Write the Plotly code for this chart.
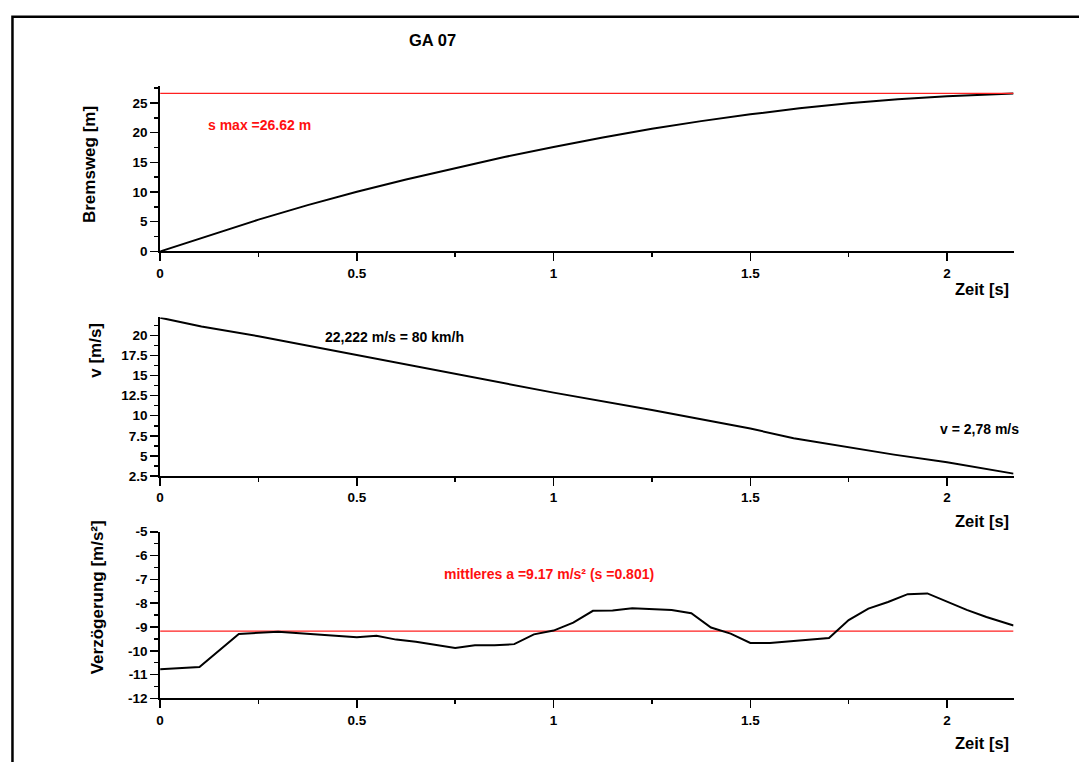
import plotly.graph_objects as go

W, H = 1079, 762

# ---------------- data ----------------
t_s = [0, 0.125, 0.25, 0.375, 0.5, 0.625, 0.75, 0.875, 1.0, 1.125, 1.25, 1.375,
       1.5, 1.625, 1.75, 1.875, 2.0, 2.1, 2.169]
s_vals = [0, 2.72, 5.35, 7.8, 10.05, 12.1, 14.05, 15.9, 17.6, 19.2, 20.65, 21.95,
          23.1, 24.1, 24.95, 25.65, 26.15, 26.45, 26.62]
s_max = 26.62

t_v = [0, 0.105, 0.25, 0.5, 0.75, 1.0, 1.25, 1.375, 1.5, 1.61, 1.71, 1.865, 2.0, 2.169]
v_vals = [22.22, 21.12, 19.92, 17.56, 15.2, 12.88, 10.72, 9.55, 8.4, 7.2, 6.4, 5.15, 4.21, 2.78]

t_a = [0, 0.1, 0.2, 0.3, 0.4, 0.5, 0.55, 0.6, 0.65, 0.75, 0.8, 0.85, 0.9, 0.95,
       1.0, 1.05, 1.1, 1.15, 1.2, 1.3, 1.35, 1.4, 1.45, 1.5, 1.55, 1.6, 1.65, 1.7,
       1.75, 1.8, 1.85, 1.9, 1.95, 2.0, 2.05, 2.1, 2.169]
a_vals = [-10.78, -10.68, -9.29, -9.2, -9.32, -9.43, -9.37, -9.53, -9.62, -9.88,
          -9.77, -9.77, -9.72, -9.31, -9.15, -8.82, -8.32, -8.31, -8.21, -8.29,
          -8.42, -9.02, -9.28, -9.67, -9.67, -9.6, -9.5, -9.46, -8.71, -8.23,
          -7.95, -7.62, -7.59, -7.95, -8.28, -8.58, -8.94]
a_mean = -9.17

a_ticks = [-12, -11, -10, -9, -8, -7, -6, -5]
a_ticklabels = ["-12", "-11", "-10", "-9", "-8", "-7", "-6", "-5"]

t_end = 2.169

# ---------------- helpers ----------------
def px(x):
    return x / W


def py(y):
    return (H - y) / H


FONT = "Liberation Sans, Arial, Helvetica, sans-serif"
tickfont = dict(family=FONT, size=13.5, color="black", weight="bold")

fig = go.Figure()

fig.add_trace(go.Scatter(x=t_s, y=s_vals, mode="lines", line=dict(color="black", width=2),
                         xaxis="x", yaxis="y", showlegend=False))
fig.add_trace(go.Scatter(x=[0, t_end], y=[s_max, s_max], mode="lines",
                         line=dict(color="#ff2020", width=1.3), xaxis="x", yaxis="y",
                         showlegend=False))
fig.add_trace(go.Scatter(x=t_v, y=v_vals, mode="lines", line=dict(color="black", width=2),
                         xaxis="x2", yaxis="y2", showlegend=False))
fig.add_trace(go.Scatter(x=[0, t_end], y=[a_mean, a_mean], mode="lines",
                         line=dict(color="#ff2020", width=1.3), xaxis="x3", yaxis="y3",
                         showlegend=False))
fig.add_trace(go.Scatter(x=t_a, y=a_vals, mode="lines", line=dict(color="black", width=2),
                         xaxis="x3", yaxis="y3", showlegend=False))

xdom = [px(156.7), px(1013.3)]


def xaxis_cfg(anchor):
    return dict(domain=xdom, anchor=anchor, range=[0, t_end], dtick=0.5, tick0=0,
                showline=True, linecolor="black", linewidth=2, showgrid=False,
                zeroline=False, ticks="outside", ticklen=8, tickwidth=1.5,
                tickcolor="black", tickfont=tickfont,
                minor=dict(dtick=0.25, ticks="outside", ticklen=4, tickwidth=1.5,
                           tickcolor="black", showgrid=False))


def yaxis_cfg(anchor, dom, rng, dtick, tick0, mdtick):
    return dict(domain=dom, anchor=anchor, range=rng, dtick=dtick, tick0=tick0,
                showline=True, linecolor="black", linewidth=2, showgrid=False,
                zeroline=False, ticks="outside", ticklen=8, tickwidth=1.5,
                tickcolor="black", tickfont=tickfont,
                minor=dict(tickmode="linear", tick0=tick0, dtick=mdtick, ticks="outside",
                           ticklen=4, tickwidth=1.5, tickcolor="black", showgrid=False))


y3 = yaxis_cfg("x3", [py(705.3), py(535.3)], [-12, -5], 1, -12, 0.5)
y3.update(tickmode="array", tickvals=a_ticks, ticktext=a_ticklabels)

fig.update_layout(
    width=W, height=H,
    margin=dict(l=0, r=0, t=0, b=0),
    paper_bgcolor="white", plot_bgcolor="white",
    xaxis=xaxis_cfg("y"),
    xaxis2=xaxis_cfg("y2"),
    xaxis3=xaxis_cfg("y3"),
    yaxis=yaxis_cfg("x", [py(249.3), py(81)], [0, 27.8], 5, 0, 2.5),
    yaxis2=yaxis_cfg("x2", [py(478.3), py(316.7)], [2.5, 22.25], 2.5, 2.5, 1.25),
    yaxis3=y3,
)

ann = []


def add_text(text, x, y, size, color="black", xanchor="center", angle=0):
    ann.append(dict(text=text, x=px(x), y=py(y), xref="paper", yref="paper",
                    xanchor=xanchor, yanchor="middle", showarrow=False, textangle=angle,
                    font=dict(family=FONT, size=size, color=color, weight="bold")))


add_text("GA 07", 430, 34, 16.5)
add_text("Bremsweg [m]", 86, 160.5, 17, angle=-90)
add_text("v [m/s]", 91, 350, 17, angle=-90)
add_text("Verzögerung [m/s²]", 94, 602.5, 17, angle=-90)
for yy in (288, 524, 751):
    add_text("Zeit [s]", 1011, yy, 16.5, xanchor="right")
add_text("s max =26.62 m", 256, 120.7, 14, color="#ff1010")
add_text("22,222 m/s = 80 km/h", 392, 336.7, 14)
add_text("v = 2,78 m/s", 979, 430, 14)
add_text("mittleres a =9.17 m/s² (s =0.801)", 547, 578, 14, color="#ff1010")

fig.update_layout(annotations=ann)

fig.add_shape(type="rect", xref="paper", yref="paper",
              x0=px(8.5), x1=px(1090), y0=py(775), y1=py(10),
              line=dict(color="black", width=2.5))

fig.write_html("out.html",
               config={"displayModeBar": False, "staticPlot": True},
               post_script="document.body.style.margin='0';document.body.style.overflow='hidden';")
